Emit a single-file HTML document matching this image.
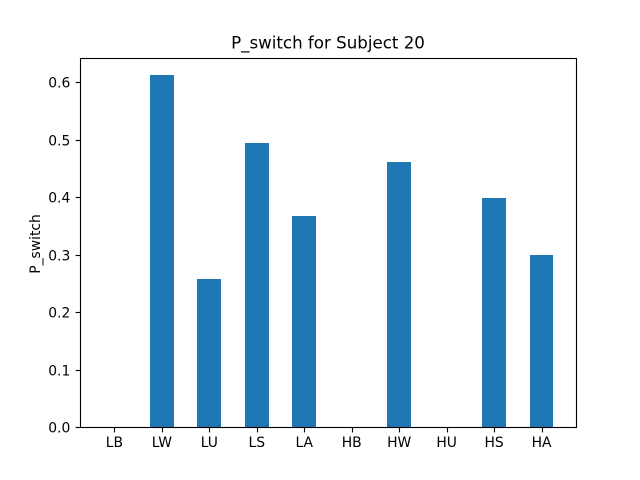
<!DOCTYPE html>
<html>
<head>
<meta charset="utf-8">
<title>P_switch for Subject 20</title>
<style>
html,body{margin:0;padding:0;background:#fff;width:640px;height:480px;overflow:hidden}
svg{display:block}
text{font-family:"DejaVu Sans",sans-serif;fill:#000}
</style>
</head>
<body>
<svg id="chart" width="640" height="480" viewBox="0 0 640 480" xmlns="http://www.w3.org/2000/svg">
<rect x="0" y="0" width="640" height="480" fill="#ffffff"/>
<g id="bars" shape-rendering="crispEdges"></g>
<g id="x-axis"></g>
<g id="y-axis"></g>
<rect x="80.5" y="58.5" width="496" height="369" fill="none" stroke="#000" stroke-width="1.11"/>
<text x="328" y="48.5" font-size="16.67" text-anchor="middle">P_switch for Subject 20</text>
<text transform="translate(40 244) rotate(-90)" font-size="13.89" text-anchor="middle">P_switch</text>
</svg>
<script>
const categories = ['LB','LW','LU','LS','LA','HB','HW','HU','HS','HA'];
const pSwitchValues = [0, 0.6125, 0.258, 0.495, 0.367, 0, 0.461, 0, 0.398, 0.3];
const yTickValues = [0, 0.1, 0.2, 0.3, 0.4, 0.5, 0.6];
const yTickLabels = ['0.0','0.1','0.2','0.3','0.4','0.5','0.6'];

const NS = 'http://www.w3.org/2000/svg';
const plotLeft = 80, plotRight = 576, plotTop = 57.6, plotBottom = 427.2;
const barWidth = 0.5;
const xMin = -barWidth / 2 - 0.05 * (categories.length - 1 + barWidth);
const xMax = categories.length - 1 + barWidth / 2 + 0.05 * (categories.length - 1 + barWidth);
const yMax = Math.max(...pSwitchValues) * 1.05;

function xScale(v) {
  return plotLeft + (v - xMin) / (xMax - xMin) * (plotRight - plotLeft);
}
function yScale(v) {
  return plotBottom - v / yMax * (plotBottom - plotTop);
}
function snapLine(v) {
  return Math.round(v) + 0.5;
}
function make(tag, attrs, parent) {
  const el = document.createElementNS(NS, tag);
  for (const k in attrs) el.setAttribute(k, attrs[k]);
  parent.appendChild(el);
  return el;
}

const barsGroup = document.getElementById('bars');
const xAxis = document.getElementById('x-axis');
const yAxis = document.getElementById('y-axis');

categories.forEach(function (cat, i) {
  const left = Math.round(xScale(i - barWidth / 2));
  const right = Math.round(xScale(i + barWidth / 2));
  const top = Math.round(yScale(pSwitchValues[i]));
  const bottom = Math.round(plotBottom);
  const bar = make('rect', {x: left, y: top, width: right - left, height: bottom - top, fill: '#1f77b4'}, barsGroup);
  
  

  const cx = xScale(i);
  const tx = snapLine(cx);
  const tick = make('line', {x1: tx, x2: tx, y1: 427.5, y2: 432.4, stroke: '#000', 'stroke-width': 1.11}, xAxis);
  
  

  const label = make('text', {x: cx, y: 447, 'font-size': 13.89, 'text-anchor': 'middle'}, xAxis);
  label.textContent = cat;
  
  
});

yTickValues.forEach(function (v, i) {
  const cy = yScale(v);
  const ty = snapLine(cy);
  const tick = make('line', {x1: 75.6, x2: 80.5, y1: ty, y2: ty, stroke: '#000', 'stroke-width': 1.11}, yAxis);
  
  

  const label = make('text', {x: 70.3, y: ty + 5, 'font-size': 13.89, 'text-anchor': 'end'}, yAxis);
  label.textContent = yTickLabels[i];
  
  
});
</script>
</body>
</html>
